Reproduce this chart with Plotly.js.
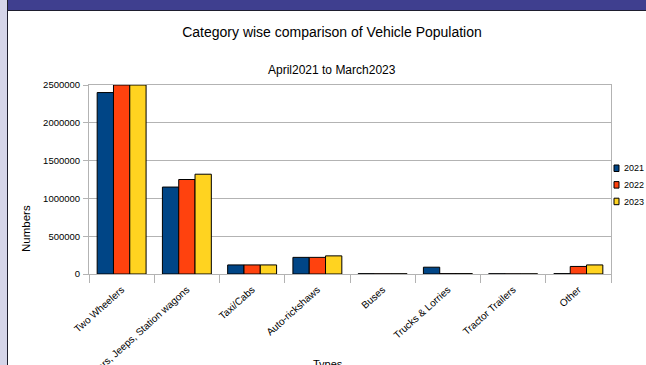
<!DOCTYPE html>
<html>
<head>
<meta charset="utf-8">
<script src="https://cdn.plot.ly/plotly-3.0.1.min.js"></script>
<style>
  html, body { margin: 0; padding: 0; background: #ffffff; }
  #chart { width: 646px; height: 365px; }
</style>
</head>
<body>
<div id="chart"></div>
<script>
// Vehicle population by category, April 2021 to March 2023
const categories = [
  'Two Wheelers',
  'Cars, Jeeps, Station wagons',
  'Taxi/Cabs',
  'Auto-rickshaws',
  'Buses',
  'Trucks & Lorries',
  'Tractor Trailers',
  'Other'
];
const years = ['2021', '2022', '2023'];
const values2021 = [2400000, 1150000, 120000, 220000, 4000, 90000, 3000, 5000];
const values2022 = [2500000, 1250000, 120000, 220000, 3000, 5000, 2000, 100000];
const values2023 = [2500000, 1320000, 120000, 240000, 3000, 5000, 2000, 120000];
const yTicks = [0, 500000, 1000000, 1500000, 2000000, 2500000];

const seriesValues = [values2021, values2022, values2023];
const colors = ['#004586', '#ff420e', '#ffd320'];

const FONT = 'Liberation Sans, Arial, sans-serif';
const W = 646, H = 365;
const M = { l: 89, r: 35, t: 85, b: 91 };
const plotW = W - M.l - M.r, plotH = H - M.t - M.b;
// pixel -> paper coordinates
const px = v => (v - M.l) / plotW;
const py = v => (H - M.b - v) / plotH;

const traces = years.map((yr, i) => ({
  type: 'bar',
  name: yr,
  x: categories,
  y: seriesValues[i],
  marker: { color: colors[i], line: { color: '#000000', width: 1 } },
  showlegend: false,
  hoverinfo: 'x+y+name'
}));

// page frame: lavender side strip and header band
const shapes = [
  { type: 'rect', xref: 'paper', yref: 'paper', x0: px(0), x1: px(7), y0: py(0), y1: py(H), fillcolor: '#d5d5e9', line: { width: 0 }, layer: 'above' },
  { type: 'rect', xref: 'paper', yref: 'paper', x0: px(7), x1: px(8), y0: py(0), y1: py(H), fillcolor: '#1e1e2e', line: { width: 0 }, layer: 'above' },
  { type: 'rect', xref: 'paper', yref: 'paper', x0: px(8), x1: px(W), y0: py(0), y1: py(10), fillcolor: '#3f3f8f', line: { width: 0 }, layer: 'above' },
  { type: 'rect', xref: 'paper', yref: 'paper', x0: px(8), x1: px(W), y0: py(10), y1: py(11), fillcolor: '#1e1e2e', line: { width: 0 }, layer: 'above' }
];

const annotations = [
  { text: 'April2021 to March2023', xref: 'paper', yref: 'paper', x: px(332), y: py(70),
    xanchor: 'center', yanchor: 'middle', showarrow: false, font: { family: FONT, size: 12, color: '#000000' } },
  { text: 'Numbers', xref: 'paper', yref: 'paper', x: px(26), y: py(229), textangle: -90,
    xanchor: 'center', yanchor: 'middle', showarrow: false, font: { family: FONT, size: 11.5, color: '#000000' } },
  { text: 'Types', xref: 'paper', yref: 'paper', x: px(328), y: py(364),
    xanchor: 'center', yanchor: 'middle', showarrow: false, font: { family: FONT, size: 11, color: '#000000' } }
];

// key beside the plot
years.forEach((yr, i) => {
  const top = 165 + i * 16.6;
  shapes.push({ type: 'rect', xref: 'paper', yref: 'paper', x0: px(614), x1: px(619), y0: py(top), y1: py(top + 6.5),
    fillcolor: colors[i], line: { color: '#000000', width: 1 } });
  annotations.push({ text: yr, xref: 'paper', yref: 'paper', x: px(622), y: py(top + 3.3),
    xanchor: 'left', yanchor: 'middle', showarrow: false, font: { family: FONT, size: 9, color: '#000000' } });
});

const layout = {
  width: W, height: H,
  margin: M,
  paper_bgcolor: '#ffffff',
  plot_bgcolor: '#ffffff',
  font: { family: FONT, color: '#000000' },
  title: {
    text: 'Category wise comparison of Vehicle Population',
    font: { family: FONT, size: 14, color: '#000000' },
    xref: 'container', x: 332 / W, xanchor: 'center',
    yref: 'container', y: 1 - 32 / H, yanchor: 'middle'
  },
  barmode: 'group',
  bargap: 0.25,
  bargroupgap: 0,
  showlegend: false,
  xaxis: {
    type: 'category',
    tickangle: -42,
    tickson: 'boundaries',
    ticks: 'outside', ticklen: 8, tickwidth: 1, tickcolor: '#b3b3b3',
    ticklabelstandoff: 5,
    showgrid: false,
    showline: true, mirror: true, linecolor: '#b3b3b3', linewidth: 1,
    tickfont: { family: FONT, size: 10, color: '#000000' },
    automargin: false
  },
  yaxis: {
    range: [0, 2500000],
    tickvals: yTicks,
    tickformat: 'd',
    ticks: 'outside', ticklen: 5, tickwidth: 1, tickcolor: '#b3b3b3',
    ticklabelstandoff: 1,
    showgrid: true, gridcolor: '#b3b3b3', gridwidth: 1,
    zeroline: false,
    showline: true, mirror: true, linecolor: '#b3b3b3', linewidth: 1,
    tickfont: { family: FONT, size: 9.5, color: '#000000' },
    automargin: false
  },
  shapes: shapes,
  annotations: annotations
};

Plotly.newPlot('chart', traces, layout, { displayModeBar: false, staticPlot: true });
</script>
</body>
</html>
